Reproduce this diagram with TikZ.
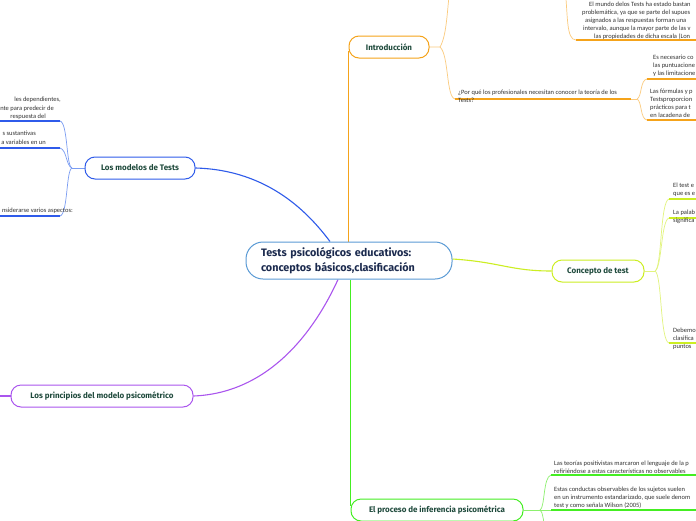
\documentclass[tikz,border=0pt]{standalone}
\usepackage{fontspec}
\setmainfont{Carlito}
\newfontfamily\nodefont{Fira Sans}
\usetikzlibrary{backgrounds}
\definecolor{cborder}{HTML}{5B9BD5}
\definecolor{ctext}{HTML}{1B2A4E}
\definecolor{ntext}{HTML}{1F4A3C}
\definecolor{leaftext}{HTML}{333333}
\definecolor{orU}{HTML}{F5A31A}
\definecolor{orC}{HTML}{FBCB7E}
\definecolor{blU}{HTML}{2F5BEA}
\definecolor{blC}{HTML}{7A9CF2}
\definecolor{liU}{HTML}{CCEE22}
\definecolor{liC}{HTML}{E2F47E}
\definecolor{grU}{HTML}{44EE22}
\definecolor{grC}{HTML}{8CF06E}
\definecolor{puU}{HTML}{AA55EE}
\tikzset{
  branchbox/.style={draw, line width=1pt, rounded corners=10pt, fill=white,
    minimum height=22pt, inner sep=0pt, text=ntext,
    font=\nodefont\bfseries\fontsize{8}{10}\selectfont},
  leaf/.style={inner sep=0pt, anchor=base west, align=left, text=leaftext,
    font=\fontsize{6.5}{8}\selectfont},
  conn/.style={line width=0.7pt},
  uline/.style={line width=1.6pt},
}
\begin{document}
\begin{tikzpicture}[x=1pt,y=-1pt]
\useasboundingbox (0,0) rectangle (696,520);

% central node
\node[draw=cborder, line width=1pt, rounded corners=17pt, fill=white,
  minimum width=206pt, minimum height=37pt, text width=176pt, inner xsep=15pt,
  align=left, text=ctext, font=\nodefont\bfseries\fontsize{10.8}{15.5}\selectfont]
  (c) at (349,260.5) {Tests psicológicos educativos:\\conceptos básicos,clasificación};

% main branches
\node[branchbox, draw=orU, minimum width=80pt] (intro) at (389,47) {Introducción};
\node[branchbox, draw=blU, minimum width=110pt] (modelos) at (140,168) {Los modelos de Tests};
\node[branchbox, draw=liU, minimum width=92pt] (concepto) at (598,271) {Concepto de test};
\node[branchbox, draw=puU, minimum width=182pt] (principios) at (102,396) {Los principios del modelo psicométrico};
\node[branchbox, draw=grU, minimum width=172pt] (proceso) at (437,510) {El proceso de inferencia psicométrica};

% ---- Introducción leaves
\node[leaf] (m1) at (589,6) {El mundo delos Tests ha estado bastan};
\node[leaf] (m2) at (582,14) {problemática, ya que se parte del supues};
\node[leaf] (m3) at (585,22) {asignados a las respuestas forman una};
\node[leaf] (m4) at (583,30) {intervalo, aunque la mayor parte de las v};
\node[leaf] (m5) at (594,38) {las propiedades de dicha escala (Lon};
\node[leaf] (pq) at (458,102) {¿Por qué los profesionales necesitan conocer la teoría de los\\Tests?};
\node[leaf] (en) at (653,75) {Es necesario co\\las puntuacione\\y las limitacione};
\node[leaf] (lf) at (650,117) {Las fórmulas y p\\Testsproporcion\\prácticos para t\\en lacadena de};

% ---- modelos leaves (clipped at left)
\node[leaf, anchor=base east] (d1) at (61,101) {les dependientes,};
\node[leaf, anchor=base east] (d2) at (54,110) {nte para predecir de};
\node[leaf, anchor=base east] (d3) at (46,118) {respuesta del};
\node[leaf, anchor=base east] (s1) at (36,135) {s sustantivas};
\node[leaf, anchor=base east] (s2) at (46,144) {a variables en un};
\node[leaf, anchor=base east] (a1) at (73,212) {nsiderarse varios aspectos:};

% ---- concepto leaves
\node[leaf] (t1) at (673,195) {El test e\\que es e};
\node[leaf] (t2) at (673,222) {La palab\\significa};
\node[leaf] (t3) at (673,348) {Debemo\\clasifica\\puntos};

% ---- proceso leaves
\node[leaf] (p1) at (554,473) {Las teorías positivistas marcaron el lenguaje de la p\\refiriéndose a estas características no observables};
\node[leaf] (p2) at (554,507) {Estas conductas observables de los sujetos suelen\\en un instrumento estandarizado, que suele denom\\test y como señala Wilson (2005)};

% coordinates
\coordinate (ib) at (440,47);
\coordinate (iup) at (450,-12);
\coordinate (iu1) at (565,-12);
\coordinate (mu) at (576,40);
\coordinate (pqs) at (455,99);
\coordinate (pqe) at (631,99);
\coordinate (pqb) at (637,99);
\coordinate (enu) at (647,79);
\coordinate (lfu) at (647,120);
\coordinate (mb) at (72,168);
\coordinate (du) at (60,121);
\coordinate (su) at (60,148);
\coordinate (au) at (60,216);
\coordinate (cb) at (655,271);
\coordinate (t1u) at (669,199);
\coordinate (t2u) at (669,218);
\coordinate (t3u) at (669,343);
\coordinate (gb) at (540,510);
\coordinate (p1u) at (551,475);
\coordinate (p2u) at (551,510);
\coordinate (p3u) at (552,560);

\begin{pgfonlayer}{background}
\fill[white] (0,0) rectangle (696,520);
% main connectors
\draw[orU, line width=1.1pt] (intro.west |- c.north) -- ([yshift=-4pt]intro.west);
\draw[grU, line width=1.1pt] (proceso.west |- c.south) -- ([yshift=4pt]proceso.west);
\draw[blU, line width=1.1pt] (modelos.east) .. controls (270,170) and (310,215) .. ([xshift=-19pt]c.north);
\draw[puU, line width=1.1pt] (principios.east) .. controls (270,393) and (315,330) .. ([xshift=-11pt]c.south);
\draw[liU, line width=1.1pt] ([yshift=1.5pt]c.east) .. controls (500,262) and (510,271) .. (concepto.west);
\draw[puU, line width=1.1pt] (principios.west) -- ++(-20,0);

% Introducción sub-branches
\draw[orC, conn] (intro.east) -- (ib) .. controls (447,35) and (447,10) .. (iup);
\draw[orC, conn] (ib) .. controls (449,55) and (446,97) .. (pqs);
\draw[orC, conn] (iu1) .. controls (568,15) and (566,40) .. (mu);
\draw[orU, uline] (mu) -- ++(130,0);
\draw[orU, uline] (pqs) -- (pqe);
\draw[orC, conn] (pqe) -- (pqb);
\draw[orC, conn] (pqb) .. controls (642,97) and (640,80) .. (enu);
\draw[orC, conn] (pqb) .. controls (642,101) and (640,119) .. (lfu);
\draw[orU, uline] (enu) -- ++(60,0);
\draw[orU, uline] (lfu) -- ++(60,0);

% modelos sub-branches
\draw[blC, conn] (modelos.west) -- (mb);
\draw[blC, conn] (mb) .. controls (66,166) and (68,123) .. (du);
\draw[blC, conn] (mb) .. controls (66,166) and (67,150) .. (su);
\draw[blC, conn] (mb) .. controls (66,170) and (68,214) .. (au);
\draw[blU, uline] (du) -- ++(-70,0);
\draw[blU, uline] (su) -- ++(-70,0);
\draw[blU, uline] (au) -- ++(-70,0);

% concepto sub-branches
\draw[liC, conn] (concepto.east) -- (cb);
\draw[liC, conn] (cb) .. controls (662,268) and (660,201) .. (t1u);
\draw[liC, conn] (cb) .. controls (662,268) and (661,220) .. (t2u);
\draw[liC, conn] (cb) .. controls (662,274) and (660,341) .. (t3u);
\draw[liU, uline] (t1u) -- ++(40,0);
\draw[liU, uline] (t2u) -- ++(40,0);
\draw[liU, uline] (t3u) -- ++(40,0);

% proceso sub-branches
\draw[grC, conn] (proceso.east) -- (gb);
\draw[grC, conn] (gb) .. controls (545,508) and (543,477) .. (p1u);
\draw[grC, conn] (gb) -- (p2u);
\draw[grC, conn] (gb) .. controls (545,512) and (545,550) .. (p3u);
\draw[grU, uline] (p1u) -- ++(160,0);
\draw[grU, uline] (p2u) -- ++(160,0);
\end{pgfonlayer}
\end{tikzpicture}
\end{document}
